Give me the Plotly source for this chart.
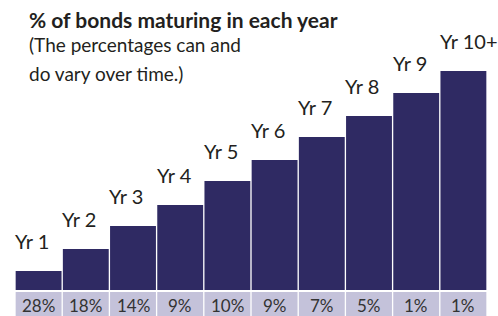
import plotly.graph_objects as go

years = ["Yr 1", "Yr 2", "Yr 3", "Yr 4", "Yr 5", "Yr 6", "Yr 7", "Yr 8", "Yr 9", "Yr 10+"]
bar_heights = [19, 41, 64, 85, 109, 130, 153, 174, 197, 219]
pct_labels = ["28%", "18%", "14%", "9%", "10%", "9%", "7%", "5%", "1%", "1%"]
band_values = [1] * len(years)

W, H = 498, 316
BAR_COLOR = "#2f2a63"
BAND_COLOR = "#c4c2da"
TEXT = "#231f20"
FONT = "Lato"

xs = list(range(len(years)))

fig = go.Figure()
fig.add_trace(go.Bar(x=xs, y=bar_heights, marker=dict(color=BAR_COLOR, line=dict(width=0)),
                     xaxis="x", yaxis="y", hoverinfo="skip"))
fig.add_trace(go.Bar(x=xs, y=band_values, marker=dict(color=BAND_COLOR, line=dict(width=0)),
                     xaxis="x2", yaxis="y2", hoverinfo="skip"))

ann = []
for i, (lab, h) in enumerate(zip(years, bar_heights)):
    ann.append(dict(x=i - 0.5, y=h, xref="x", yref="y", text=lab, showarrow=False,
                    xanchor="left", yanchor="bottom", xshift=-2, yshift=16,
                    font=dict(family=FONT, size=20, color=TEXT)))
for i, p in enumerate(pct_labels):
    ann.append(dict(x=i, y=0.5, xref="x2", yref="y2", text=p, showarrow=False,
                    xanchor="center", yanchor="middle", yshift=-1,
                    font=dict(family=FONT, size=17, color="#333333")))

def py(px):
    return 1 - px / H

ann.append(dict(x=13 / W, y=py(5), xref="paper", yref="paper", xanchor="left", yanchor="top",
                text="<b>% of bonds maturing in each year</b>", showarrow=False,
                font=dict(family=FONT, size=21, color=TEXT)))
ann.append(dict(x=13 / W, y=py(31), xref="paper", yref="paper", xanchor="left", yanchor="top",
                text="(The percentages can and", showarrow=False,
                font=dict(family=FONT, size=19, color=TEXT)))
ann.append(dict(x=13 / W, y=py(60), xref="paper", yref="paper", xanchor="left", yanchor="top",
                text="do vary over time.)", showarrow=False,
                font=dict(family=FONT, size=19, color=TEXT)))

fig.update_layout(
    width=W, height=H,
    margin=dict(l=15, r=11, t=0, b=0, pad=0),
    paper_bgcolor="white", plot_bgcolor="white",
    showlegend=False, bargap=0.028,
    xaxis=dict(range=[-0.5, 9.5], visible=False, domain=[0, 1], anchor="y"),
    yaxis=dict(range=[0, 290], visible=False, domain=[26 / H, 1], anchor="x"),
    xaxis2=dict(range=[-0.5, 9.5], visible=False, domain=[0, 1], anchor="y2"),
    yaxis2=dict(range=[0, 1], visible=False, domain=[0, 24 / H], anchor="x2"),
    annotations=ann,
)

fig.write_html("out.html", config={"displayModeBar": False},
               post_script="document.body.style.margin='0';document.body.style.overflow='hidden';")
